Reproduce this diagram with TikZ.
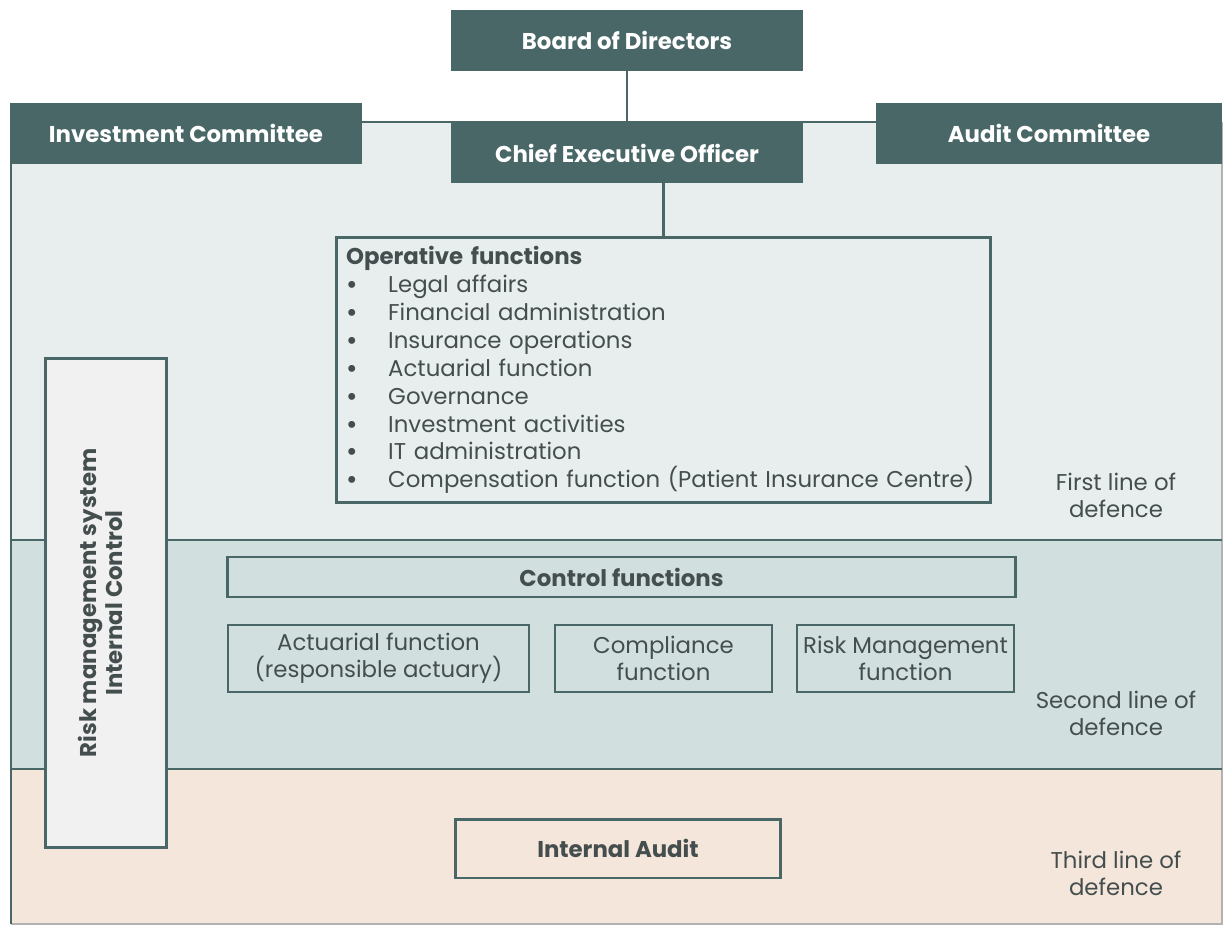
\documentclass[tikz,border=0pt]{standalone}
\usepackage{fontspec}
\setmainfont{Poppins}
\definecolor{tealdark}{HTML}{4A6767}
\definecolor{firstfill}{HTML}{E8EEEE}
\definecolor{secondfill}{HTML}{D1DFDF}
\definecolor{thirdfill}{HTML}{F4E6DA}
\definecolor{riskfill}{HTML}{F1F1F1}
\definecolor{textgrey}{HTML}{454E4E}
\begin{document}
\begin{tikzpicture}[
  x=0.02cm,y=-0.02cm,
  dark box/.style={fill=tealdark,text=white,minimum height=1.22cm,
    font=\bfseries\fontsize{13}{15}\selectfont},
  frame box/.style={draw=tealdark,line width=1.7pt,text=textgrey},
  thin box/.style={draw=tealdark,line width=1pt,text=textgrey,align=center,
    minimum width=4.34cm,minimum height=1.34cm,
    font=\fontsize{13}{15.5}\selectfont},
  line label/.style={text=textgrey,align=center,
    font=\fontsize{13}{15.5}\selectfont}
]
  \useasboundingbox (0,0) rectangle (1223,925);
  \fill [firstfill] (11,122) rectangle (1222,540);
  \fill [secondfill] (11,540) rectangle (1222,769);
  \fill [thirdfill] (11,769) rectangle (1222,925);
  \draw [gray!60,line width=0.6pt] (1222,122) -- (1222,924) -- (11,924);
  \draw [tealdark,line width=1.7pt] (11,924) -- (11,122) -- (1222,122);
  \draw [tealdark,line width=1.7pt] (11,540) -- (1222,540);
  \draw [tealdark,line width=1.7pt] (11,769) -- (1222,769);

  \node [dark box,minimum width=7.04cm] (board) at (627,40.5) {Board of Directors};
  \node [dark box,minimum width=7.04cm] (invest) at (186,133.5) {Investment Committee};
  \node [dark box,minimum width=6.92cm] (audit) at (1049,133.5) {Audit Committee};
  \node [dark box,minimum width=7.04cm,minimum height=1.2cm] (ceo) at (627,153) {Chief Executive Officer};

  \node [frame box,minimum height=5.32cm,text width=12.7cm,inner xsep=0.2cm,
    align=left,font=\fontsize{13}{15.9}\selectfont] (oper) at (663.5,370)
    {\textbf{Operative functions}\\
     \makebox[24pt][l]{\textbf{\textbullet}}Legal affairs\\
     \makebox[24pt][l]{\textbf{\textbullet}}Financial administration\\
     \makebox[24pt][l]{\textbf{\textbullet}}Insurance operations\\
     \makebox[24pt][l]{\textbf{\textbullet}}Actuarial function\\
     \makebox[24pt][l]{\textbf{\textbullet}}Governance\\
     \makebox[24pt][l]{\textbf{\textbullet}}Investment activities\\
     \makebox[24pt][l]{\textbf{\textbullet}}IT administration\\
     \makebox[24pt][l]{\textbf{\textbullet}}Compensation function (Patient Insurance Centre)};

  \node [frame box,fill=riskfill,minimum width=2.44cm,minimum height=9.8cm] (risk) at (106,603) {};
  \node [text=textgrey,rotate=90,align=center,
    font=\bfseries\fontsize{13}{15}\selectfont] (risk text) at ([xshift=-3]risk.center)
    {Risk management system\\Internal Control};

  \node [frame box,minimum width=15.78cm,minimum height=0.8cm,
    font=\bfseries\fontsize{13}{15}\selectfont] (ctrl) at (621.5,577) {Control functions};
  \node [thin box,minimum width=6.02cm] (act) at (378.5,658.5)
    {Actuarial function\\(responsible actuary)};
  \node [thin box] (comp) at (663.5,658.5) {Compliance\\function};
  \node [thin box] (rmf) at (905.5,658.5) {Risk Management\\function};

  \node [frame box,minimum width=6.52cm,minimum height=1.18cm,
    font=\bfseries\fontsize{13}{15}\selectfont] (internal) at (618,848.5) {Internal Audit};

  \node [line label] (first) at (1116,495) {First line of\\defence};
  \node [line label] (second) at (1116,713) {Second line of\\defence};
  \node [line label] (third) at (1116,873) {Third line of\\defence};

  \draw [tealdark,line width=1.2pt] (board) -- (ceo);
  \draw [tealdark,line width=1.2pt] (oper.north |- ceo.south) -- (oper.north);
\end{tikzpicture}
\end{document}
